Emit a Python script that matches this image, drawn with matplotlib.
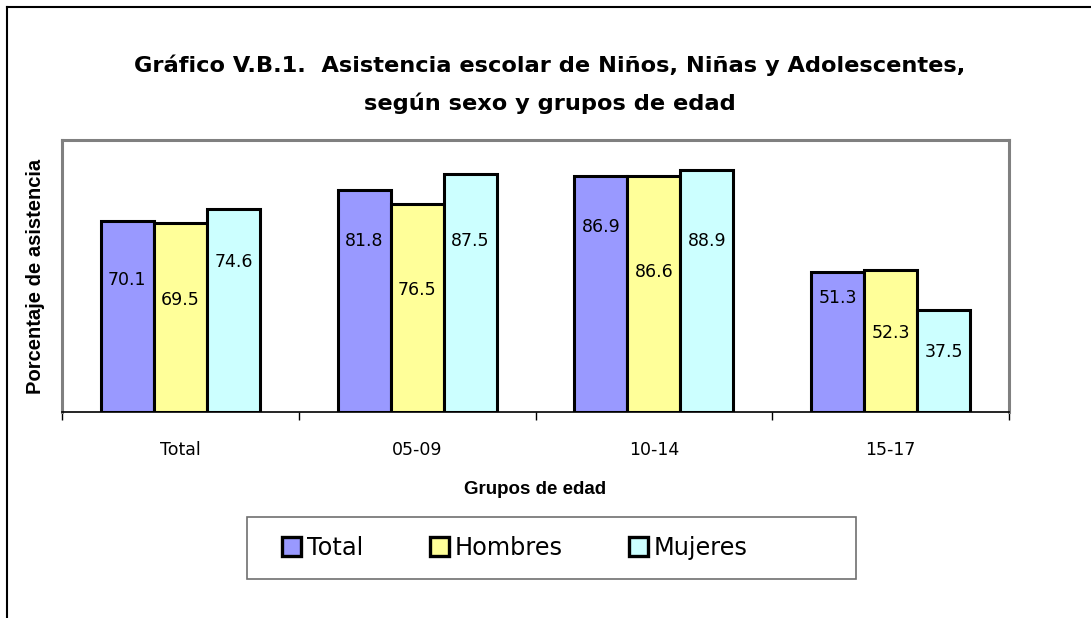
import matplotlib
matplotlib.use("Agg")
import matplotlib.pyplot as plt
import numpy as np
from matplotlib.lines import Line2D
from matplotlib.patches import Patch, Rectangle

groups = ["Total", "05-09", "10-14", "15-17"]
series = ["Total", "Hombres", "Mujeres"]
total = [70.1, 81.8, 86.9, 51.3]
hombres = [69.5, 76.5, 86.6, 52.3]
mujeres = [74.6, 87.5, 88.9, 37.5]

colors = ["#9999FF", "#FFFF99", "#CCFFFF"]
# where each value label sits inside its bar (data units)
label_y = [[48.5, 63, 68, 42], [41, 45, 51.5, 29], [55, 63, 63, 22]]

W, H = 1091, 618
fig = plt.figure(figsize=(W / 100, H / 100), dpi=100)
ax = fig.add_axes([62 / W, 1 - 412 / H, (1009 - 62) / W, (412 - 140) / H])

x = np.arange(len(groups))
bw = 0.224
for i, vals in enumerate([total, hombres, mujeres]):
    pos = x + (i - 1) * bw
    ax.bar(pos, vals, width=bw, color=colors[i], edgecolor="black", linewidth=2.2, zorder=3)
    for p, v, ly in zip(pos, vals, label_y[i]):
        ax.text(p, ly, f"{v:.1f}", ha="center", va="center", fontsize=12.5, zorder=4)

ax.set_xlim(-0.5, len(groups) - 0.5)
ax.set_ylim(0, 100)
ax.set_yticks([])
ax.set_xticks(np.arange(-0.5, len(groups), 1.0))
ax.set_xticklabels([])
ax.tick_params(axis="x", which="major", direction="out", length=6, width=1, color="black")
ax.set_xticks(x, minor=True)
ax.set_xticklabels(groups, minor=True, fontsize=12.5)
ax.tick_params(axis="x", which="minor", length=0, pad=21)

for s in ["left", "top", "right"]:
    ax.spines[s].set_color("#808080")
    ax.spines[s].set_linewidth(2.2)
ax.spines["bottom"].set_color("black")
ax.spines["bottom"].set_linewidth(1.2)

ax.set_ylabel("Porcentaje de asistencia", fontsize=14.5, fontweight="bold",
              family="Liberation Sans", labelpad=12)
ax.set_xlabel("Grupos de edad", fontsize=13.5, fontweight="bold",
              family="Liberation Sans", labelpad=16)

fig.text(550 / W, 1 - 65 / H, "Gráfico V.B.1.  Asistencia escolar de Niños, Niñas y Adolescentes,",
         ha="center", va="center", fontsize=16.2, fontweight="bold")
fig.text(550 / W, 1 - 103 / H, "según sexo y grupos de edad",
         ha="center", va="center", fontsize=16.2, fontweight="bold")

handles = [Patch(facecolor=c, edgecolor="black", linewidth=2.4) for c in colors]
leg = fig.legend(handles, series, loc="center left", bbox_to_anchor=(282 / W, 1 - 548 / H),
                 ncol=3, fontsize=17.3, frameon=False, borderpad=0, borderaxespad=0,
                 handlelength=0.8, handleheight=0.8, handletextpad=0.25, columnspacing=2.75)
fig.add_artist(Rectangle((247 / W, 1 - 579 / H), (856 - 247) / W, (579 - 517) / H,
                         transform=fig.transFigure, fill=False, edgecolor="#707070",
                         linewidth=1.2))

# outer frame (only left and top visible in the crop)
fig.add_artist(Line2D([7 / W, 7 / W], [0, 1 - 7 / H], color="black", linewidth=1.5,
                      transform=fig.transFigure))
fig.add_artist(Line2D([7 / W, 1], [1 - 7 / H, 1 - 7 / H], color="black", linewidth=1.5,
                      transform=fig.transFigure))

fig.savefig("out.png", dpi=100)
